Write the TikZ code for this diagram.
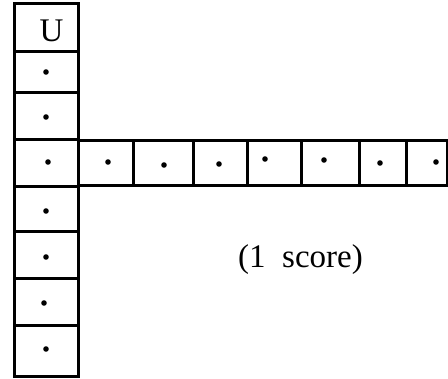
\documentclass[tikz,border=0pt]{standalone}
\usepackage{fontspec}
\setmainfont{Liberation Serif}
\begin{document}
\begin{tikzpicture}[x=1pt,y=-1pt,
  grid/.style={draw=black,line width=3pt},
  dotmark/.style={fill=black},
  lbl/.style={inner sep=0pt,font=\fontsize{33}{38}\selectfont}]
\useasboundingbox (0,0) rectangle (448,379);
% vertical column
\foreach \a/\b in {4/52,52/93,93/140,140/187,187/232,232/279,279/326,326/377}{
  \draw[grid] (14,\a) rectangle (78,\b);
}
% horizontal row
\foreach \a/\b in {78/133,133/193,193/247,247/301,301/359,359/406,406/447}{
  \draw[grid] (\a,141) rectangle (\b,186);
}
% dots in column
\foreach \x/\y in {46/72,46/117,48/162,46/211,46/257,44/303,46/349}{
  \fill[dotmark] (\x,\y) circle (2.8);
}
% dots in row
\foreach \x/\y in {108/162,164/165,219/164,265/159,324/160,380/163,436/162}{
  \fill[dotmark] (\x,\y) circle (2.8);
}
\node[lbl,anchor=base] (u) at (51.5,42) {U};
\node[lbl,anchor=base] (score) at (300.5,268) {(1\ \ score)};
\end{tikzpicture}
\end{document}
